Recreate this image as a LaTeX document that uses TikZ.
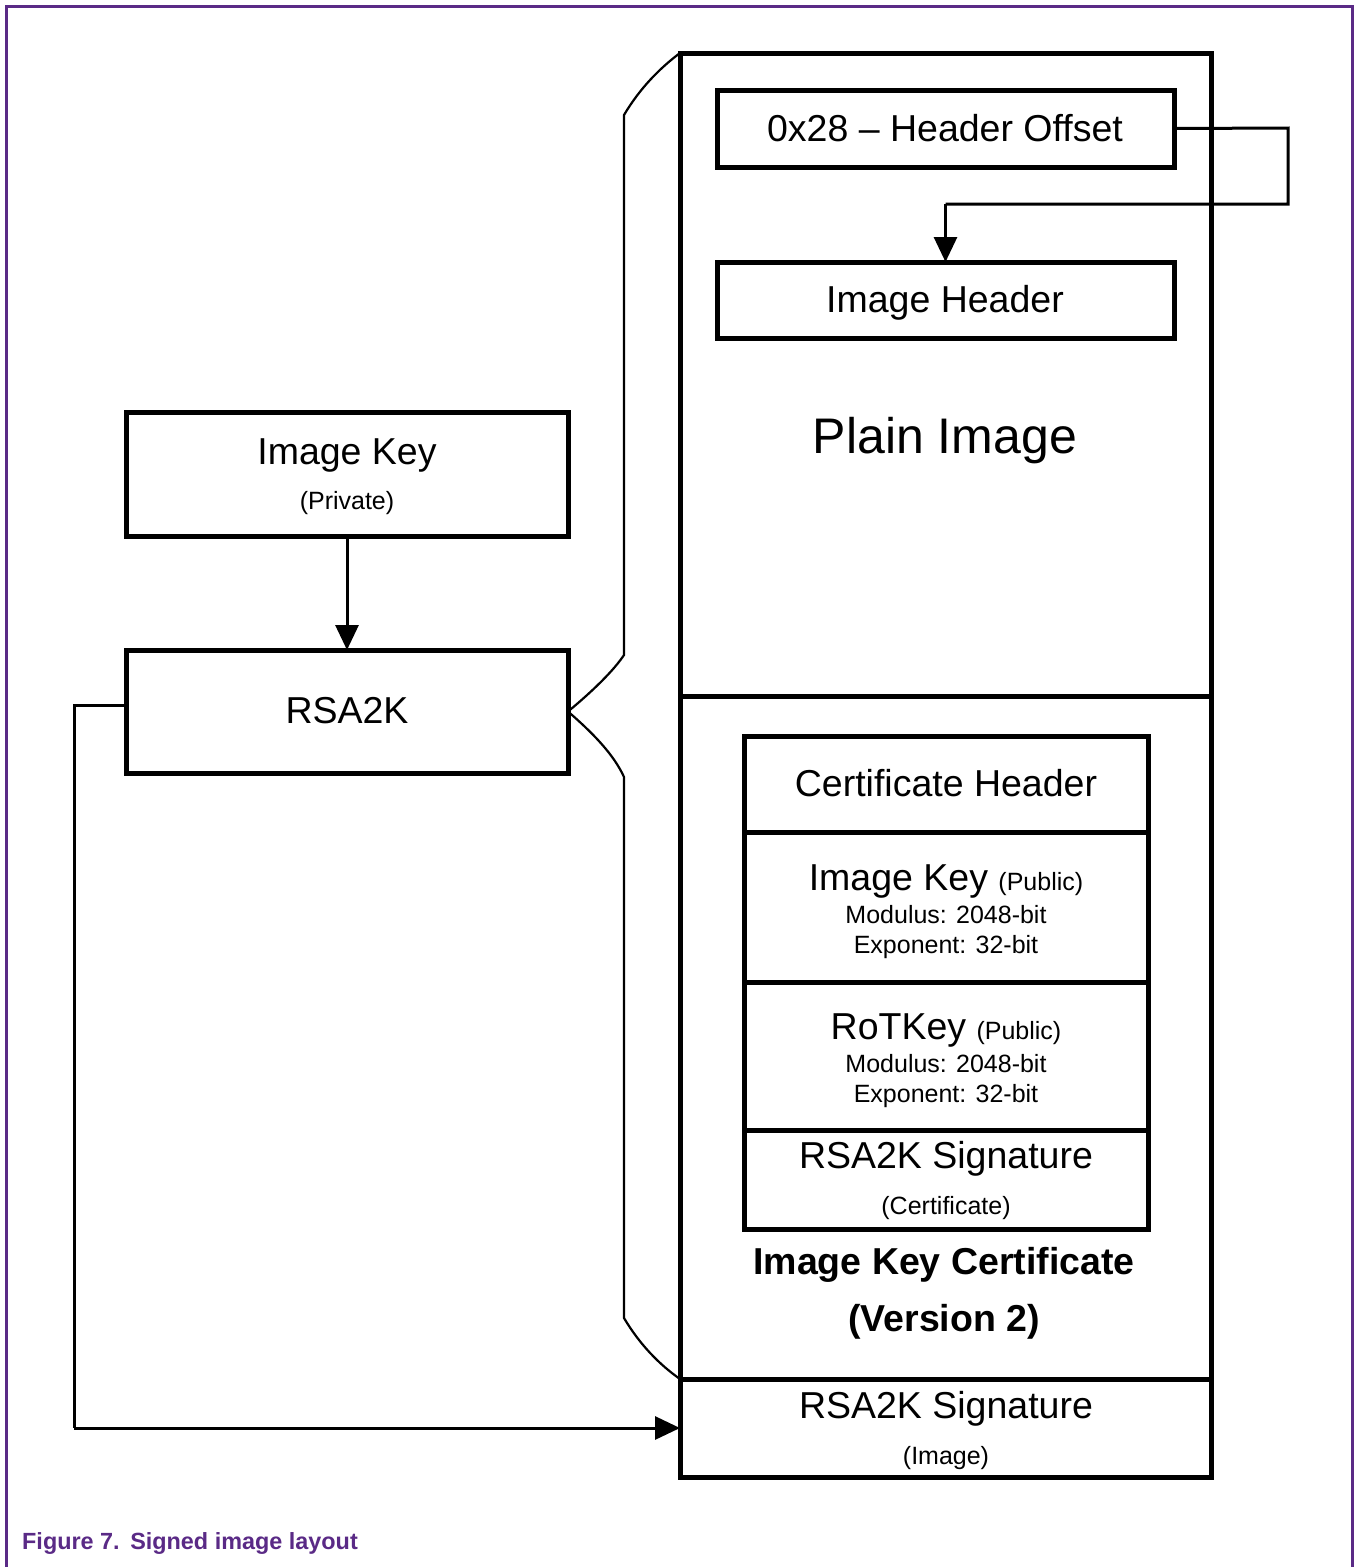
\documentclass[tikz,border=0pt]{standalone}
\usepackage{fontspec}
\setmainfont{Liberation Sans}
\usetikzlibrary{arrows.meta}
\definecolor{nxppurple}{RGB}{90,42,134}
\newcommand\FsL{\fontsize{37.5}{42}\selectfont}
\newcommand\FsXL{\fontsize{50}{56}\selectfont}
\newcommand\FsS{\fontsize{25}{29}\selectfont}
\newcommand\FsCap{\fontsize{23.4}{27}\selectfont}
\begin{document}
\begin{tikzpicture}[x=1pt,y=-1pt,
  box/.style={draw,line width=5pt,inner sep=0pt,outer sep=0pt,anchor=north west},
  txt/.style={inner sep=0pt,anchor=base},
  conn/.style={line width=3pt},
  arr/.style={line width=3pt,-{Triangle[length=25pt,width=23pt]}},
  brace/.style={line width=2.2pt},
  frame/.style={draw=nxppurple,line width=3pt}]
\useasboundingbox (0,0) rectangle (1354,1567);
% frame
\draw[frame] (6,1567) -- (6,6) -- (1352,6) -- (1352,1567);
% main column
\node[box,minimum width=531pt,minimum height=643pt] (plain) at (680,53) {};
\node[box,minimum width=531pt,minimum height=683pt] (certsec) at (680,696) {};
\node[box,minimum width=531pt,minimum height=98pt] (sig) at (680,1379) {};
% header boxes
\node[box,minimum width=457pt,minimum height=77pt] (hoff) at (717,90) {};
\node[box,minimum width=457pt,minimum height=76pt] (ihdr) at (717,262) {};
\node[txt,font=\FsL] (thoff) at (945,141) {0x28 -- Header Offset};
\node[txt,font=\FsL] (tihdr) at (945,312) {Image Header};
\node[txt,font=\FsXL] (tplain) at (945,453) {Plain Image};
% certificate
\node[box,minimum width=404pt,minimum height=96pt] (chdr) at (744,736) {};
\node[box,minimum width=404pt,minimum height=150pt] (cik) at (744,832) {};
\node[box,minimum width=404pt,minimum height=148pt] (crot) at (744,982) {};
\node[box,minimum width=404pt,minimum height=99pt] (csig) at (744,1130) {};
\node[txt,font=\FsL] (tchdr) at (946,796) {Certificate Header};
\node[txt,font=\FsL] (tcik) at (946,890) {Image Key {\FsS(Public)}};
\node[txt,font=\FsS] (tcikm) at (946,923) {Modulus: 2048-bit};
\node[txt,font=\FsS] (tcike) at (946,953) {Exponent: 32-bit};
\node[txt,font=\FsL] (tcrot) at (946,1039) {RoTKey {\FsS(Public)}};
\node[txt,font=\FsS] (tcrotm) at (946,1072) {Modulus: 2048-bit};
\node[txt,font=\FsS] (tcrote) at (946,1102) {Exponent: 32-bit};
\node[txt,font=\FsL] (tcsig) at (946,1168) {RSA2K Signature};
\node[txt,font=\FsS] (tcsigs) at (946,1214) {(Certificate)};
\node[txt,font=\FsL\bfseries] (tikc) at (944,1274) {Image Key Certificate};
\node[txt,font=\FsL\bfseries] (tver) at (944,1331) {(Version 2)};
\node[txt,font=\FsL] (tsig) at (946,1418) {RSA2K Signature};
\node[txt,font=\FsS] (tsigs) at (946,1464) {(Image)};
% left boxes
\node[box,minimum width=442pt,minimum height=124pt] (ikey) at (126,412) {};
\node[box,minimum width=442pt,minimum height=123pt] (rsa) at (126,650) {};
\node[txt,font=\FsL] (tikey) at (347,464) {Image Key};
\node[txt,font=\FsS] (tpriv) at (347,509) {(Private)};
\node[txt,font=\FsL] (trsa) at (347,723) {RSA2K};
% connectors
\coordinate (hturn1) at (1288,128);
\coordinate (hturn2) at (1288,204);
\draw[conn] (hoff.east) -- (hturn1) -- (hturn2) -- (hturn2 -| ihdr.north);
\draw[arr] (hturn2 -| ihdr.north) -- (ihdr.north);
\draw[arr] (ikey.south) -- (rsa.north);
\coordinate (lturn1) at (74,705);
\coordinate (lturn2) at (74,1428);
\draw[conn] (rsa.west |- lturn1) -- (lturn1) -- (lturn2);
\draw[arr] (lturn2) -- (sig.west);
% braces
\coordinate (bu1) at (624,655);
\coordinate (bu2) at (624,115);
\coordinate (bd1) at (624,777);
\coordinate (bd2) at (624,1318);
\draw[brace] (rsa.east) .. controls (594,690) and (614,670) .. (bu1) -- (bu2)
  .. controls (640,88) and (660,68) .. (plain.north west);
\draw[brace] (rsa.east) .. controls (594,734) and (614,755) .. (bd1) -- (bd2)
  .. controls (640,1345) and (660,1365) .. (sig.north west);
% caption
\node[inner sep=0pt,anchor=base west,font=\FsCap\bfseries,text=nxppurple] (cap) at (22,1549) {Figure 7.\hspace{0.08em} Signed image layout};
\end{tikzpicture}
\end{document}
